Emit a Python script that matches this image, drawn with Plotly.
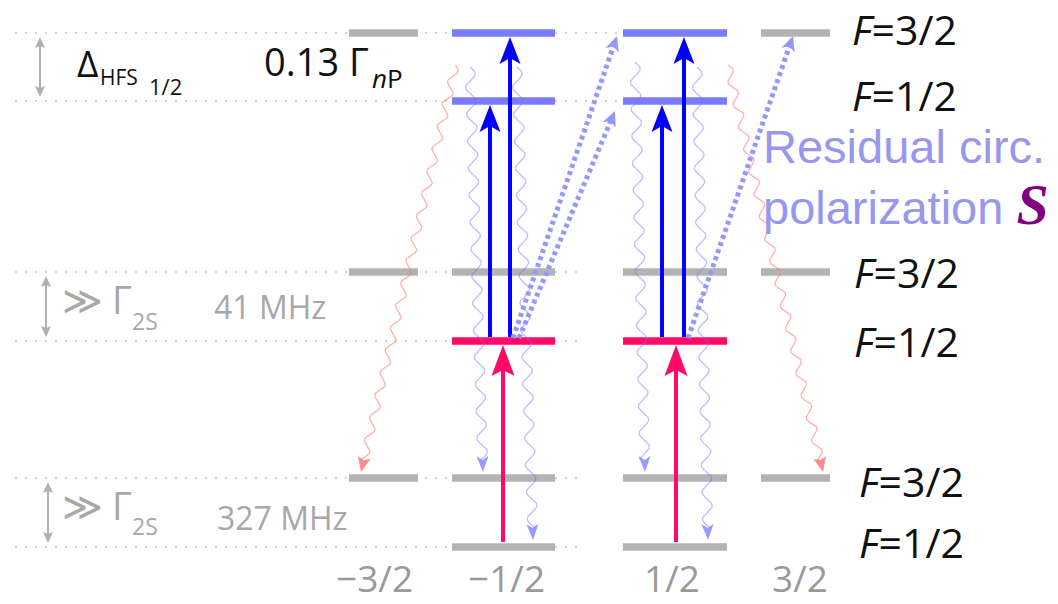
import numpy as np
import plotly.graph_objects as go

W, H = 1058, 604

# ---------------------------------------------------------------- level data
mf_labels = ["−3/2", "−1/2", "1/2", "3/2"]
mf_values = [-1.5, -0.5, 0.5, 1.5]

level_keys = ["nP32", "nP12", "2S32", "2S12", "1S32", "1S12"]
level_F = ["3/2", "1/2", "3/2", "1/2", "3/2", "1/2"]
level_E = [571, 503, 332, 263, 126, 57]          # diagram height units (up)

# splittings written next to each manifold
split_text = ["0.13 Γ", "41 MHz", "327 MHz"]

# 1S(F=1/2) -> 2S(F=1/2) excitation
exc_mf = [-0.5, 0.5]
# 2S(F=1/2) -> nP excitation
probe_mf = [-0.5, -0.5, 0.5, 0.5]
probe_target = ["nP12", "nP32", "nP12", "nP32"]
# residual sigma+ component: start m_F, target m_F, target level
sigma_mf = [-0.5, -0.5, 0.5]
sigma_to_mf = [0.5, 0.5, 1.5]
sigma_target = ["nP32", "nP12", "nP32"]
# spontaneous decays from nP: start m_F, end m_F, end level, colour group
decay_mf = [-0.5, -0.5, -0.5, 0.5, 0.5, 0.5]
decay_to_mf = [-1.5, -0.5, -0.5, 0.5, 0.5, 1.5]
decay_target = ["1S32", "1S32", "1S12", "1S32", "1S12", "1S32"]
decay_kind = ["red", "blue", "blue", "blue", "blue", "red"]

# ---------------------------------------------------------------- geometry
col_x = {-1.5: 383.5, -0.5: 503.5, 0.5: 675.0, 1.5: 795.5}
col_w = {-1.5: 69, -0.5: 103, 0.5: 104, 1.5: 69}
E = dict(zip(level_keys, level_E))

GRAY = "#b3b3b3"
LBLUE = "#7b7bff"
PINK = "#ff0a66"
BLUE = "#0000ff"
DOTBLUE = "#9696ff"
TXTBLUE = "#9797ee"

fig = go.Figure()
shapes = []


def head(tip, frm, length, half_w, notch, color, opacity=1.0):
    tx, ty = tip
    dx, dy = tx - frm[0], ty - frm[1]
    n = np.hypot(dx, dy)
    ux, uy = dx / n, dy / n
    px, py = -uy, ux
    bx, by = tx - ux * length, ty - uy * length
    nx, ny = tx - ux * (length - notch), ty - uy * (length - notch)
    path = (f"M{tx:.2f},{ty:.2f} L{bx + px * half_w:.2f},{by + py * half_w:.2f} "
            f"L{nx:.2f},{ny:.2f} L{bx - px * half_w:.2f},{by - py * half_w:.2f} Z")
    shapes.append(dict(type="path", path=path, xref="x", yref="y",
                       fillcolor=color, line=dict(width=0), opacity=opacity))
    return nx, ny


def line(xs, ys, color, width, dash=None, opacity=1.0):
    fig.add_trace(go.Scatter(x=xs, y=ys, mode="lines", hoverinfo="skip",
                             opacity=opacity,
                             line=dict(color=color, width=width, dash=dash)))


def arrow(start, tip, color, width, length, half_w, notch, dash=None, opacity=1.0):
    nx, ny = head(tip, start, length, half_w, notch, color, opacity)
    line([start[0], nx], [start[1], ny], color, width, dash, opacity)


def wavy(start, tip, color, amp, period, hl, hw, notch, opacity):
    x0, y0 = start
    dx, dy = tip[0] - x0, tip[1] - y0
    L = np.hypot(dx, dy)
    ux, uy = dx / L, dy / L
    px, py = -uy, ux
    t = np.linspace(0, L - hl + notch, 600)
    off = amp * np.sin(2 * np.pi * t / period)
    line(x0 + ux * t + px * off, y0 + uy * t + py * off, color, 1.3, opacity=opacity)
    head(tip, start, hl, hw, notch, color, opacity=min(1.0, opacity + 0.25))


# dotted guide lines through every level
for key, e in zip(level_keys, level_E):
    x_end = 617 if key.startswith("nP") else 585
    line([15, x_end], [e, e], "#c4c4c4", 1.6, dash="2px,8px")

# sublevel bars
groups = {GRAY: ([], []), LBLUE: ([], []), PINK: ([], [])}
for key, F, e in zip(level_keys, level_F, level_E):
    for m in mf_values:
        if F == "1/2" and abs(m) > 0.5:
            continue
        if key.startswith("nP") and abs(m) < 1:
            c = LBLUE
        elif key == "2S12":
            c = PINK
        else:
            c = GRAY
        xs, ys = groups[c]
        xs += [col_x[m] - col_w[m] / 2, col_x[m] + col_w[m] / 2, None]
        ys += [e, e, None]
for c, (xs, ys) in groups.items():
    line(xs, ys, c, 7.5)

# spontaneous decays
decay_dx0 = [-48, -33.5, 13.5, -40, 22, 53]
decay_dx1 = [-22.5, -20.5, 29.5, -30, 33, 27.5]
decay_y0 = [539, 537, 537, 542, 537, 539]
for m0, m1, tgt, kind, a, b, y0 in zip(decay_mf, decay_to_mf, decay_target,
                                       decay_kind, decay_dx0, decay_dx1, decay_y0):
    s = (col_x[m0] + a, y0)
    t = (col_x[m1] + b, E[tgt] + 6 if tgt == "1S32" else E[tgt] + 7)
    if kind == "red":
        wavy(s, t, "#ff6f6f", 4.0, 23, 15, 6.5, 3, 0.55)
    else:
        wavy(s, t, "#6f6fff", 5.0, 27, 16, 6.0, 4, 0.45)

# 1S-2S excitation (pink)
for m, dx in zip(exc_mf, [-0.5, 1.0]):
    x = col_x[m] + dx
    arrow((x, E["1S12"] + 5), (x, E["2S12"] - 4), PINK, 4, 31, 11.5, 6)

# 2S-nP excitation (blue)
probe_dx = [-13.5, 6.5, -13, 9]
for m, tgt, dx in zip(probe_mf, probe_target, probe_dx):
    x = col_x[m] + dx
    arrow((x, E["2S12"] + 4), (x, E[tgt] - 4), BLUE, 4, 27, 10.5, 6)

# residual circular polarisation (dotted)
sig_dx0 = [9.5, 15.5, 13]
sig_dx1 = [-58, -60, -2.5]
for m0, m1, tgt, a, b in zip(sigma_mf, sigma_to_mf, sigma_target, sig_dx0, sig_dx1):
    s = (col_x[m0] + a, E["2S12"] + 3)
    t = (col_x[m1] + b, E[tgt] - 3 if tgt == "nP32" else E[tgt] - 10)
    arrow(s, t, DOTBLUE, 5, 15, 7, 4, dash="4px,3.5px")

# double-headed markers for the splittings
for (hi, lo), x in zip([("nP32", "nP12"), ("2S32", "2S12"), ("1S32", "1S12")],
                       [40, 46, 48]):
    y1, y0 = E[hi] - 4, E[lo] + 4
    arrow(((x), (y0 + y1) / 2), (x, y1), "#b0b0b0", 2, 11, 5, 2)
    arrow(((x), (y0 + y1) / 2), (x, y0), "#b0b0b0", 2, 11, 5, 2)

# ---------------------------------------------------------------- text
ann = []


def txt(x, y, s, size, color="#111111", family="Open Sans", anchor="left"):
    ann.append(dict(x=x, y=y, xref="x", yref="y", text=s, showarrow=False,
                    xanchor=anchor, yanchor="middle", align="left", borderpad=0,
                    font=dict(size=size, color=color, family=family)))


# hyperfine F labels
label_x = [851, 851, 853, 853, 858, 858]
label_dy = [4, 6, 0, 0, -3, 5]
for F, e, x, d in zip(level_F, level_E, label_x, label_dy):
    txt(x, e + d, f"<i>F</i>=" + F, 41)

# m_F axis labels
mf_text_x = [374, 506, 672, 800]
for s, x in zip(mf_labels, mf_text_x):
    txt(x, 27, s, 37, color="#9a9a9a", anchor="center")

# nP splitting
txt(76, 542, "Δ", 37)
txt(99, 527, "HFS", 21)
txt(148, 518, "1/2", 22)
txt(263, 543, split_text[0], 38)
txt(371, 526, "<i>n</i>P", 26)

# 2S and 1S splittings
GTXT = "#a8a8a8"
for yc, ys, yt, s, xs in [(304, 283, 298, split_text[1], 213),
                          (98, 78, 87, split_text[2], 216)]:
    txt(61, yc, "≫", 39, GTXT, family="DejaVu Sans")
    txt(111, yc + 1, "Γ", 38, GTXT)
    txt(131, ys, "2S", 23, GTXT)
    txt(xs, yt, s, 32, GTXT)

# residual polarisation note
txt(762, 426,
    "Residual circ.<br>polarization "
    "<span style='font-family:Liberation Serif;font-size:58px;color:#800080;"
    "font-weight:bold;font-style:italic'>S</span>",
    47, TXTBLUE, family="Liberation Sans")

fig.update_layout(
    width=W, height=H, margin=dict(l=0, r=0, t=0, b=0),
    paper_bgcolor="white", plot_bgcolor="white", showlegend=False,
    xaxis=dict(range=[0, W], visible=False, fixedrange=True),
    yaxis=dict(range=[0, H], visible=False, fixedrange=True),
    shapes=shapes, annotations=ann,
)
fig.write_html("out.html")
